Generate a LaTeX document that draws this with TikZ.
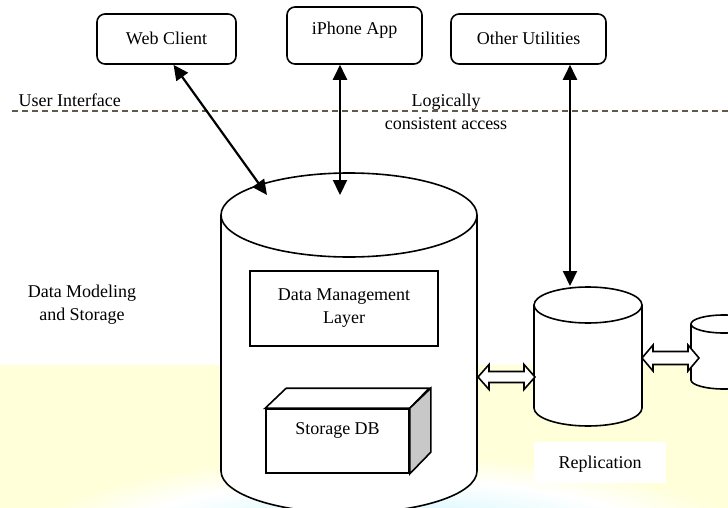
\documentclass[tikz,border=0pt]{standalone}
\usepackage{fontspec}
\setmainfont{Liberation Serif}
\usetikzlibrary{arrows.meta}

\definecolor{bgyellow}{RGB}{255,255,218}
\definecolor{bgcyan}{RGB}{200,245,252}
\definecolor{dashcol}{RGB}{95,90,75}
\definecolor{sidegray}{RGB}{200,200,200}
\pgfdeclareradialshading{glow}{\pgfpoint{0bp}{0bp}}{%
  color(0bp)=(bgcyan); color(13bp)=(bgcyan!45!white); color(19bp)=(white); color(25bp)=(bgyellow); color(50bp)=(bgyellow)}

\begin{document}
\begin{tikzpicture}[
      x=1pt, y=-1pt, >={Triangle[length=15pt,width=14pt]},
      font=\fontsize{18}{23}\selectfont,
      client/.style={draw, rounded corners=8pt, line width=1.6pt, text height=12pt, text depth=0pt},
      layer/.style={draw, line width=1.5pt, align=center, minimum width=188pt, minimum height=75pt},
      dbface/.style={draw, fill=white, line width=1.6pt, minimum width=143pt, minimum height=64pt,
                     text height=12pt, text depth=26pt},
      cyl/.style={draw, fill=white, line width=1.6pt},
      link/.style={<->, line width=2.2pt},
      hollow/.style={draw, fill=white, line width=1.6pt},
      txt/.style={align=center}]
      \useasboundingbox (0,0) rectangle (728,508);
      \clip (0,0) rectangle (728,508);
      % backdrop behind the storage tier
      \fill[bgyellow] (0,365) rectangle (728,508);
      \shade[shading=glow] (385,555) ellipse[x radius=380, y radius=100];
      % tier boundary
      \draw[dashcol, line width=1.8pt, dash pattern=on 6pt off 4pt] (12,111) -- (728,111);
      \node[anchor=base west] (uilab) at (15,107) {User Interface};
      \node[txt] (access) at (446,112) {Logically\\consistent access};
      \node[txt] (modeling) at (82,305) {Data Modeling\\and Storage};
      % front ends
      \node[client, minimum width=139pt, minimum height=50pt] (web) at (166.5,39) {Web Client};
      \node[client, minimum width=135pt, minimum height=57pt, text depth=14pt] (iphone) at (354.5,35.5) {iPhone App};
      \node[client, minimum width=155pt, minimum height=50pt] (other) at (528.5,39) {Other Utilities};
      % main store
      \draw[cyl] (221,215) -- (221,471) arc[start angle=180, end angle=0, x radius=128, y radius=42] -- (477,215);
      \draw[cyl] (349,215) ellipse[x radius=128, y radius=42];
      \coordinate (webin) at (267,195);
      \coordinate (iphin) at (340,195);
      \node[layer] (dml) at (344,308.5) {Data Management\\Layer};
      \node[dbface] (db) at (337.5,441) {Storage DB};
      \draw[cyl] (db.north west) -- ++(21,-20) -- ++(143,0) -- (db.north east) -- cycle;
      \draw[cyl, fill=sidegray] (db.north east) -- ++(21,-20) -- ++(0,64) -- (db.south east) -- cycle;
      % replicas
      \draw[cyl] (534,305) -- (534,408) arc[start angle=180, end angle=0, x radius=54, y radius=18] -- (642,305);
      \draw[cyl] (588,305) ellipse[x radius=54, y radius=18];
      \coordinate (repin) at (570,286);
      \draw[cyl] (691,324) -- (691,380) arc[start angle=180, end angle=0, x radius=33, y radius=9] -- (757,324);
      \draw[cyl] (724,324) ellipse[x radius=33, y radius=9];
      \node[fill=white, minimum width=132pt, minimum height=41pt, text height=12pt, text depth=0pt] (replab) at (600,462.5) {Replication};
      % access paths
      \draw[link] ([xshift=7pt]web.south) -- (webin);
      \draw[link] ([xshift=-14.5pt]iphone.south) -- (iphin);
      \draw[link] ([xshift=41.5pt]other.south) -- (repin);
      % replication links
      \draw[hollow] (478,377) -- (489,364.5) -- (489,371.5) -- (524,371.5) -- (524,364.5) -- (535,377)
                    -- (524,389.5) -- (524,382.5) -- (489,382.5) -- (489,389.5) -- cycle;
      \draw[hollow] (642,358) -- (653,345) -- (653,351.5) -- (688,351.5) -- (688,345) -- (699,358)
                    -- (688,371) -- (688,364.5) -- (653,364.5) -- (653,371) -- cycle;
    \end{tikzpicture}
\end{document}
